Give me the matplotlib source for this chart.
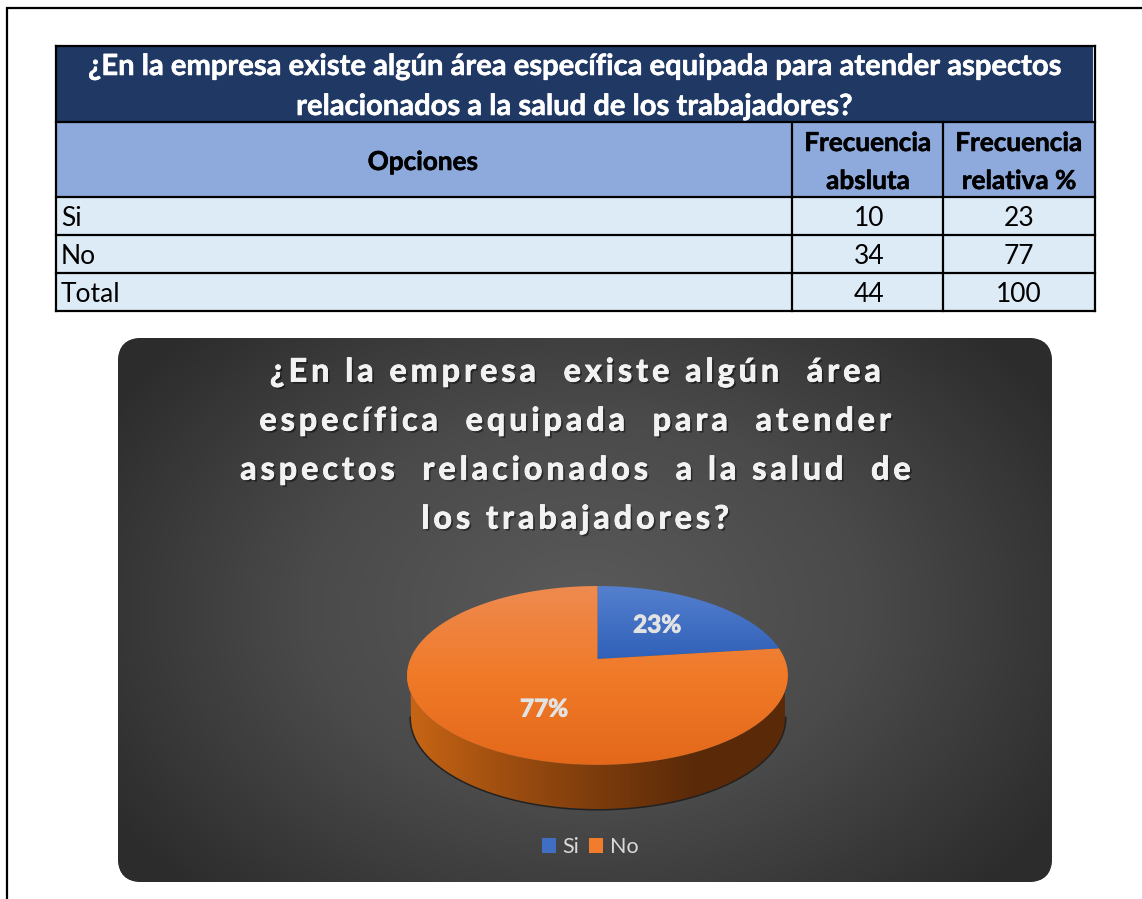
import numpy as np
import matplotlib
matplotlib.use("Agg")
import matplotlib.pyplot as plt
import matplotlib.patches as mpatches
import matplotlib.patheffects as pe
from matplotlib.colors import LinearSegmentedColormap
from matplotlib.path import Path as MPath
from matplotlib.transforms import Affine2D

plt.rcParams["font.family"] = ["Lato", "DejaVu Sans"]

TABLE_TITLE = ["¿En la empresa existe algún área específica equipada para atender aspectos",
               "relacionados a la salud de los trabajadores?"]
CHART_TITLE = ["¿En la empresa  existe algún  área",
               "específica  equipada  para  atender",
               "aspectos  relacionados  a la salud  de",
               "los trabajadores?"]
OPTIONS = ["Si", "No"]
ABSOLUTE = [10, 34]
RELATIVE = [23, 77]
TOTAL_ABS = 44
TOTAL_REL = 100

HAIR = "\u200a"


def spaced(s, n=2):
    return (HAIR * n).join(s)


def heavy(color, lw=0.5):
    return [pe.withStroke(linewidth=lw, foreground=color)]


def gradient_in(ax, path, c_list, extent, horizontal=False, zorder=3):
    g = np.linspace(0, 1, 256)
    g = g.reshape(1, -1) if horizontal else g.reshape(-1, 1)
    cmap = LinearSegmentedColormap.from_list("g", c_list)
    im = ax.imshow(g, cmap=cmap, extent=extent, aspect="auto", origin="upper", zorder=zorder)
    im.set_clip_path(mpatches.PathPatch(path, transform=ax.transData))
    return im


# perspective used to lay the flat pie down
CX, CY, BX, AY, K = 597.5, 659.0, 187.2, 86.4, 0.184


def lay_down(xy):
    w = 1 + K * xy[:, 1]
    return np.column_stack([CX + BX * xy[:, 0] / w, CY - AY * xy[:, 1] / w])


fig = plt.figure(figsize=(11.42, 8.99), dpi=100)
ax = fig.add_axes([0, 0, 1, 1])

# page frame
ax.plot([7, 7, 1142], [899, 8, 8], color="black", lw=1.6, zorder=1, solid_joinstyle="miter")

# table
x0, x1, x2, x3 = 56, 792, 943, 1095
y_edges = [46, 122, 197, 235, 273, 311]
ax.add_patch(mpatches.Rectangle((x0, y_edges[0]), x3 - x0, y_edges[1] - y_edges[0], fc="#1F3864", ec="none", zorder=1))
ax.add_patch(mpatches.Rectangle((x0, y_edges[1]), x3 - x0, y_edges[2] - y_edges[1], fc="#8EA9DB", ec="none", zorder=1))
ax.add_patch(mpatches.Rectangle((x0, y_edges[2]), x3 - x0, y_edges[5] - y_edges[2], fc="#DDEBF7", ec="none", zorder=1))
ax.plot([1093, 1093], [47, 121], color="white", lw=0.8, zorder=1.5)
for y in y_edges:
    ax.plot([x0, x3], [y, y], color="black", lw=1.6, zorder=2, solid_capstyle="projecting")
for x in [x0, x3]:
    ax.plot([x, x], [y_edges[0], y_edges[5]], color="black", lw=1.6, zorder=2, solid_capstyle="projecting")
for x in [x1, x2]:
    ax.plot([x, x], [y_edges[1], y_edges[5]], color="black", lw=1.6, zorder=2, solid_capstyle="projecting")

for line, y in zip(TABLE_TITLE, [67, 107]):
    ax.text(574.5, y, line, color="white", fontsize=21, fontweight="bold", ha="center", va="center", zorder=4,
            path_effects=heavy("white", 0.4))
ax.text(423, 162, "Opciones", fontsize=18.8, fontweight="bold", ha="center", va="center", zorder=4,
        path_effects=heavy("black", 0.4))
for xc, top, bottom in [(868, "Frecuencia", "absluta"), (1019, "Frecuencia", "relativa %")]:
    ax.text(xc, 143, top, fontsize=18.8, fontweight="bold", ha="center", va="center", zorder=4,
            path_effects=heavy("black", 0.4))
    ax.text(xc, 181, bottom, fontsize=18.8, fontweight="bold", ha="center", va="center", zorder=4,
            path_effects=heavy("black", 0.4))
rows = OPTIONS + ["Total"]
col_abs = ABSOLUTE + [TOTAL_ABS]
col_rel = RELATIVE + [TOTAL_REL]
for i, y in enumerate([218, 256, 294]):
    ax.text(61, y, rows[i], fontsize=19, ha="left", va="center", zorder=4)
    ax.text(869, y, str(col_abs[i]), fontsize=19, ha="center", va="center", zorder=4)
    ax.text(1019, y, str(col_rel[i]), fontsize=19, ha="center", va="center", zorder=4)

# chart background
card = mpatches.FancyBboxPatch((140, 360), 890, 500, boxstyle="round,pad=22,rounding_size=24",
                               fc="#2C2C2C", ec="none", zorder=1)
ax.add_patch(card)
xx, yy = np.meshgrid(np.linspace(118, 1052, 300), np.linspace(338, 882, 200))
rr = np.clip(np.hypot((xx - 585) / 560, (yy - 610) / 400), 0, 1)
shade = LinearSegmentedColormap.from_list("shade", ["#5A5A5A", "#4A4A4A", "#2C2C2C"])
bg = ax.imshow(rr, cmap=shade, extent=(118, 1052, 882, 338), aspect="auto", origin="upper", zorder=1.2, vmin=0, vmax=1)
bg.set_clip_path(card)

shadow = [pe.withSimplePatchShadow(offset=(1.5, -1.5), shadow_rgbFace="black", alpha=0.45),
          pe.withStroke(linewidth=0.6, foreground="#F2F2F2")]
for line, y in zip(CHART_TITLE, [372, 421, 470, 519]):
    ax.text(575, y, spaced(line), color="#F2F2F2", fontsize=23.2, fontweight="bold", ha="center", va="center",
            zorder=4, path_effects=shadow)

# pie: slices come out of ax.pie on a helper axes, then get laid down
helper = fig.add_axes([0, 0, 0.01, 0.01])
wedges, _ = helper.pie(RELATIVE, startangle=90, counterclock=False, radius=1)
helper.set_visible(False)

t = np.linspace(0, np.pi, 200)
rim = lay_down(np.column_stack([np.cos(t + np.pi), np.sin(t + np.pi)]))
arc_x = 598 + 187 * np.cos(t)
arc_y = 718 + 91 * np.sin(t)
wall_xy = np.vstack([rim, np.column_stack([arc_x, arc_y])])
wall = MPath(np.vstack([wall_xy, wall_xy[:1]]), closed=True)
ax.plot(arc_x, arc_y, color="black", lw=2.2, alpha=0.55, zorder=2.5)
gradient_in(ax, wall, ["#C96614", "#A04F10", "#7C3C0C", "#5A2A08", "#5A2A08"], (405, 790, 815, 670), horizontal=True, zorder=2.6)

slice_colors = [["#5580CF", "#2F60B8"], ["#EE8A50", "#F07A28", "#E4681A"]]
slice_spans = [(586, 660), (586, 766)]
for wedge, colors, span in zip(wedges, slice_colors, slice_spans):
    flat = wedge.get_path().to_polygons(Affine2D().scale(1000), closed_only=True)[0] / 1000
    laid = lay_down(flat)
    gradient_in(ax, MPath(laid, closed=True), colors, (400, 795, span[1], span[0]), zorder=3)

for value, (lx, ly) in zip(RELATIVE, [(657, 625), (544, 709)]):
    ax.text(lx, ly, f"{value}%", color="#E3E3E3", fontsize=17.5, fontweight="bold", ha="center", va="center", zorder=4,
            path_effects=heavy("#E3E3E3", 0.7))

handles = [mpatches.Patch(fc=c, ec="none") for c in ["#3F6EC3", "#F07C2C"]]
leg = ax.legend(handles, OPTIONS, ncol=2, loc="center", bbox_to_anchor=(590, 847), bbox_transform=ax.transData,
                frameon=False, fontsize=15.5, labelcolor="#D9D9D9", handlelength=0.66, handleheight=0.66,
                handletextpad=0.3, columnspacing=0.45)
leg.set_zorder(4)

ax.set_xlim(0, 1142)
ax.set_ylim(899, 0)
ax.axis("off")
fig.savefig("out.png", dpi=100)
